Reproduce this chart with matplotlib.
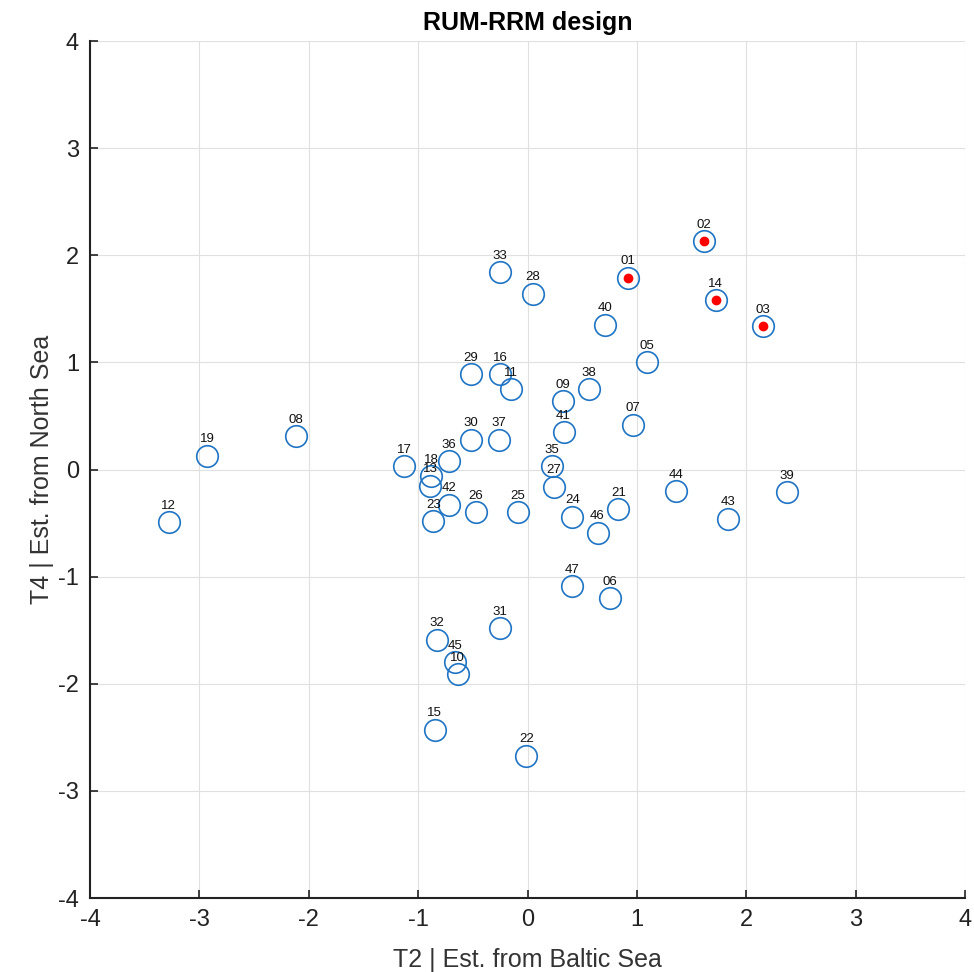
import matplotlib
matplotlib.use("Agg")
import matplotlib.pyplot as plt

labels = ["01","02","03","05","06","07","08","09","10","11","12","13","14","15","16","17","18","19",
          "21","22","23","24","25","26","27","28","29","30","31","32","33","35","36","37","38","39",
          "40","41","42","43","44","45","46","47"]
x_vals = [0.92,1.61,2.15,1.09,0.75,0.96,-2.12,0.32,-0.64,-0.15,-3.28,-0.89,1.72,-0.85,-0.25,-1.13,-0.88,-2.93,
          0.83,-0.01,-0.86,0.41,-0.09,-0.47,0.24,0.05,-0.52,-0.52,-0.25,-0.83,-0.25,0.22,-0.72,-0.26,0.56,2.37,
          0.71,0.33,-0.72,1.83,1.36,-0.66,0.64,0.41]
y_vals = [1.79,2.13,1.34,1.00,-1.20,0.42,0.31,0.64,-1.91,0.75,-0.49,-0.15,1.58,-2.43,0.89,0.03,-0.06,0.13,
          -0.37,-2.67,-0.48,-0.44,-0.40,-0.40,-0.16,1.64,0.89,0.28,-1.48,-1.59,1.84,0.03,0.08,0.28,0.75,-0.21,
          1.35,0.35,-0.33,-0.46,-0.20,-1.80,-0.59,-1.09]
highlight = ["01","02","14","03"]
tick_vals = [-4, -3, -2, -1, 0, 1, 2, 3, 4]
tick_labels = ["-4", "-3", "-2", "-1", "0", "1", "2", "3", "4"]

plt.rcParams['font.family'] = ['Liberation Sans', 'DejaVu Sans']
fig = plt.figure(figsize=(9.74, 9.72), dpi=100)
ax = fig.add_axes([0.0924, 0.0761, 0.8984, 0.8817])

ax.plot(x_vals, y_vals, linestyle='none', marker='o', markersize=15.5, markerfacecolor='none',
        markeredgecolor='#1f74c4', markeredgewidth=1.2, zorder=3)
hx = [x for l, x in zip(labels, x_vals) if l in highlight]
hy = [y for l, y in zip(labels, y_vals) if l in highlight]
ax.plot(hx, hy, linestyle='none', marker='o', markersize=6, markerfacecolor='red',
        markeredgecolor='red', zorder=4)
for l, x, y in zip(labels, x_vals, y_vals):
    ax.annotate(l, (x, y), xytext=(0, 7.5), textcoords='offset points', ha='center', va='bottom',
                fontsize=9.5, color='#111111', zorder=5)

ax.set_xlim(-4, 4)
ax.set_ylim(-4, 4)
ax.set_xticks(tick_vals)
ax.set_xticklabels(tick_labels)
ax.set_yticks(tick_vals)
ax.set_yticklabels(tick_labels)
ax.grid(True, color='#e0e0e0', linewidth=0.8)
ax.set_axisbelow(True)
ax.spines['top'].set_visible(False)
ax.spines['right'].set_visible(False)
ax.spines['left'].set_linewidth(1.5)
ax.spines['bottom'].set_linewidth(1.5)
ax.spines['left'].set_color('#222222')
ax.spines['bottom'].set_color('#222222')
ax.tick_params(direction='in', length=6, width=1.2, labelsize=17, pad=8, colors='#222222')
ax.set_xlabel('T2 | Est. from Baltic Sea', fontsize=18, color='#333333', labelpad=12)
ax.set_ylabel('T4 | Est. from North Sea', fontsize=18, color='#333333', labelpad=3)
ax.set_title('RUM-RRM design', fontsize=18, fontweight='bold', pad=8)

fig.savefig('out.png', dpi=100)
